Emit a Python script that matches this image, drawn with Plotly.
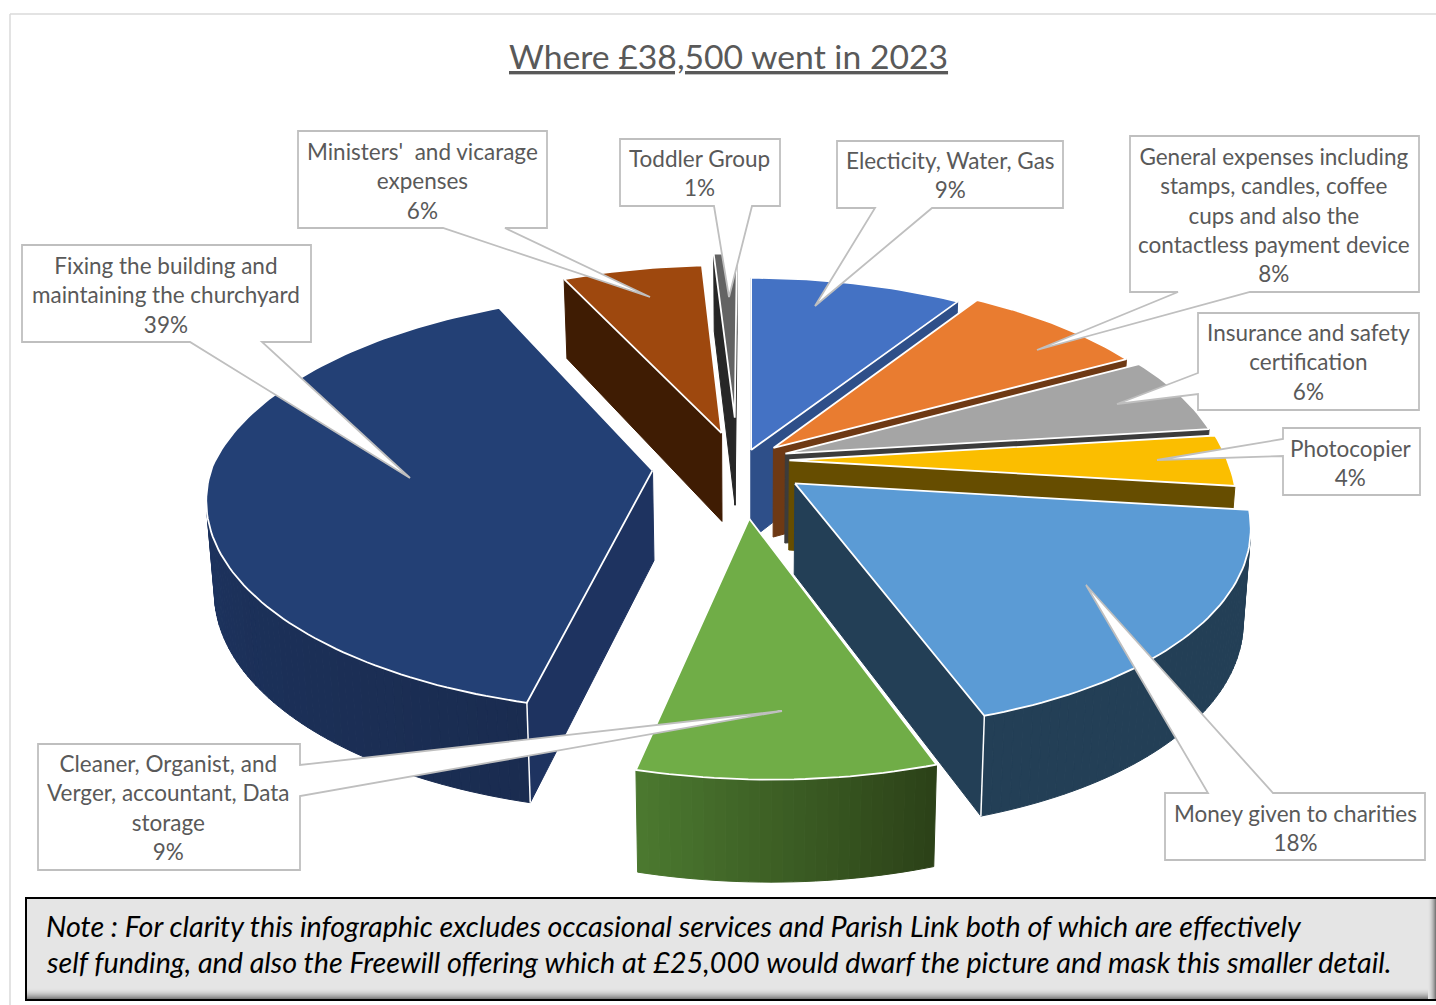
import math
import plotly.graph_objects as go

# Budget shares, clockwise from twelve o'clock
categories = ["Electicity, Water, Gas",
              "General expenses including<br>stamps, candles, coffee<br>cups and also the<br>contactless payment device",
              "Insurance and safety<br>certification",
              "Photocopier",
              "Money given to charities",
              "Cleaner, Organist, and<br>Verger, accountant, Data<br>storage",
              "Fixing the building and<br>maintaining the churchyard",
              "Ministers'  and vicarage<br>expenses",
              "Toddler Group"]
shares = [9, 8, 6, 4, 18, 9, 39, 6, 1]

# Per-slice styling
top_colors = ["#4472C4", "#E97C30", "#A5A5A5", "#FBBE00", "#5B9BD5", "#70AD47", "#234075", "#9E480E", "#636363"]
cut_colors = ["#2E4F89", "#6E3914", "#3C3C3C", "#664D00", "#233F56", "#2C4218", "#1E3360", "#3F1C03", "#262626"]
wall_start = ["#2E4F89", "#6E3914", "#3C3C3C", "#664D00", "#233F56", "#2C4218", "#1A2C50", "#3F1C03", "#262626"]
wall_end = ["#2E4F89", "#6E3914", "#3C3C3C", "#664D00", "#233F56", "#4C7A30", "#1F3A6E", "#3F1C03", "#262626"]
explode = [0.08, 0.104, 0.1, 0.092, 0.127, 0.25, 0.225, 0.18, 0.25]
explode_turn = [-16, -17, -20, -18, 2, 5, 0, -8, -7]

# Perspective view of the pie
CX, CY = 751, 466
SX, SY = 440, 203
TILT = 0.153
SHEAR = 18
DEPTH_FRONT, DEPTH_BACK = 100, 80


def project(px, py, lower=False):
    w = 1 + TILT * py
    x = CX + (SX * px + SHEAR * max(0.0, -py)) / w
    y = CY - SY * py / w
    if lower:
        x = CX + (x - CX) * 0.985
        y += (DEPTH_FRONT + DEPTH_BACK) / 2 - (DEPTH_FRONT - DEPTH_BACK) / 2 * py
    return x, y


def mix(a, b, t):
    ca = [int(a[i:i + 2], 16) for i in (1, 3, 5)]
    cb = [int(b[i:i + 2], 16) for i in (1, 3, 5)]
    return "#%02X%02X%02X" % tuple(round(p + (q - p) * t) for p, q in zip(ca, cb))


def area(pts):
    return sum(pts[i][0] * pts[(i + 1) % len(pts)][1] - pts[(i + 1) % len(pts)][0] * pts[i][1]
               for i in range(len(pts))) / 2


fig = go.Figure()


def polygon(pts, fill, line=None, width=1, name=""):
    xs = [p[0] for p in pts] + [pts[0][0]]
    ys = [p[1] for p in pts] + [pts[0][1]]
    fig.add_trace(go.Scatter(x=xs, y=ys, mode="lines", fill="toself", fillcolor=fill,
                             line=dict(color=line or fill, width=width),
                             hoverinfo="skip", showlegend=False, name=name))


def polyline(pts, color="#FFFFFF", width=1.5):
    fig.add_trace(go.Scatter(x=[p[0] for p in pts], y=[p[1] for p in pts], mode="lines",
                             line=dict(color=color, width=width),
                             hoverinfo="skip", showlegend=False))


total = sum(shares)
slices = []
running = 0
for i, share in enumerate(shares):
    a0 = running / total * 360
    running += share
    a1 = running / total * 360
    slices.append((i, a0, a1))

# Paint from the back of the pie to the front
mid_angle = lambda s: math.radians((s[1] + s[2]) / 2)
for i, a0, a1 in sorted(slices, key=lambda s: -math.cos(mid_angle(s))):
    direction = math.radians((a0 + a1) / 2 + explode_turn[i])
    ox = explode[i] * math.sin(direction)
    oy = explode[i] * math.cos(direction)
    steps = max(2, int((a1 - a0) / 1.2))
    rim = []
    for k in range(steps + 1):
        t = math.radians(a0 + (a1 - a0) * k / steps)
        rim.append((ox + math.sin(t), oy + math.cos(t)))
    apex = (ox, oy)
    top_outline = [project(*apex)] + [project(*p) for p in rim]

    # Cut faces: keep only those turned towards the viewer
    for u, v in ((apex, rim[0]), (rim[-1], apex)):
        quad = [project(*u), project(*v), project(*v, True), project(*u, True)]
        if area(quad) < 0:
            polygon(quad, cut_colors[i])

    # Outer wall, shaded strip by strip along the arc
    for k in range(steps):
        u, v = rim[k], rim[k + 1]
        quad = [project(*u), project(*v), project(*v, True), project(*u, True)]
        if area(quad) < 0:
            polygon(quad, mix(wall_start[i], wall_end[i], k / steps))

    # Bright vertical seams at the front corners of the wall
    for p in (rim[0], rim[-1]):
        if p[1] < -0.5 and i in (4, 6):
            polyline([project(*p), project(*p, True)])

    polygon(top_outline, top_colors[i], "#FFFFFF", 1.8, name=categories[i])

# Callout boxes: box corners with the pointer inserted on one side
GREY = "#BFBFBF"
callouts = [
    [(22, 245), (311, 245), (311, 342), (262, 342), (410, 478), (190, 342), (22, 342)],
    [(298, 131), (547, 131), (547, 228), (505, 228), (650, 297), (443, 228), (298, 228)],
    [(620, 139), (780, 139), (780, 206), (752, 206), (729, 297), (714, 206), (620, 206)],
    [(837, 141), (1063, 141), (1063, 208), (932, 208), (815, 306), (875, 208), (837, 208)],
    [(1130, 136), (1419, 136), (1419, 292), (1250, 292), (1037, 350), (1178, 292), (1130, 292)],
    [(1198, 313), (1419, 313), (1419, 410), (1198, 410), (1198, 394), (1117, 404), (1198, 373)],
    [(1283, 428), (1420, 428), (1420, 495), (1283, 495), (1283, 456), (1157, 460), (1283, 439)],
    [(1165, 793), (1208, 793), (1086, 585), (1273, 793), (1425, 793), (1425, 860), (1165, 860)],
    [(38, 744), (300, 744), (300, 765), (782, 711), (300, 796), (300, 870), (38, 870)],
]
label_centres = [(950, 175), (1274, 215), (1308, 362), (1351, 463), (1295, 828),
                 (168, 807), (166, 295), (422, 181), (699, 173)]
for pts in callouts:
    path = "M " + " L ".join(f"{x},{y}" for x, y in pts) + " Z"
    fig.add_shape(type="path", path=path, fillcolor="#FFFFFF", line=dict(color=GREY, width=1.8),
                  layer="above")

LABEL_FONT = dict(family="Lato, Carlito, sans-serif", size=22.5, color="#595959")
for name, share, (x, y) in zip(categories, shares, label_centres):
    fig.add_annotation(x=x, y=y, xref="x", yref="y", text=f"{name}<br>{share}%", showarrow=False,
                       align="center", font=LABEL_FONT)

fig.add_annotation(x=728, y=56, xref="x", yref="y", text="<u>Where £38,500 went in 2023</u>", showarrow=False,
                   font=dict(family="Lato, Carlito, sans-serif", size=33.7, color="#595959"))

# Frame of the chart area
for x0, y0, x1, y1 in ((10, 14, 1436, 14), (10, 14, 10, 1005)):
    fig.add_shape(type="line", x0=x0, y0=y0, x1=x1, y1=y1, line=dict(color="#DADADA", width=1.5))

# Note panel with a soft bevel along its lower and right edges
fig.add_shape(type="rect", x0=26, y0=898, x1=1437, y1=1000, fillcolor="#E5E5E5", line=dict(width=0), layer="above")
for n in range(12):
    shade = mix("#E5E5E5", "#6A6A6A", ((n + 1) / 12) ** 2)
    fig.add_shape(type="rect", x0=26, y0=988 + n, x1=1437, y1=989 + n, fillcolor=shade, line=dict(width=0), layer="above")
for n in range(8):
    shade = mix("#E5E5E5", "#7A7A7A", ((n + 1) / 8) ** 2)
    fig.add_shape(type="rect", x0=1428 + n, y0=898, x1=1429 + n, y1=1000, fillcolor=shade, line=dict(width=0), layer="above")
fig.add_shape(type="rect", x0=26, y0=898, x1=1440, y1=1000, line=dict(color="#000000", width=2), layer="above")

NOTE_FONT = dict(family="Lato, Carlito, sans-serif", size=28.7, color="#000000")
note_lines = ["<i>Note : For clarity this infographic excludes occasional services and Parish Link both of which are effectively</i>",
              "<i>self funding, and also the Freewill offering which at £25,000 would dwarf the picture and mask this smaller detail.</i>"]
for text, y in zip(note_lines, (926, 962)):
    fig.add_annotation(x=44, y=y, xref="x", yref="y", text=text, showarrow=False, xanchor="left", font=NOTE_FONT)

fig.update_layout(width=1436, height=1005, margin=dict(l=0, r=0, t=0, b=0),
                  paper_bgcolor="#FFFFFF", plot_bgcolor="#FFFFFF", showlegend=False,
                  xaxis=dict(range=[0, 1436], visible=False, fixedrange=True),
                  yaxis=dict(range=[1005, 0], visible=False, fixedrange=True))
fig.write_html("out.html", config={"displayModeBar": False})
